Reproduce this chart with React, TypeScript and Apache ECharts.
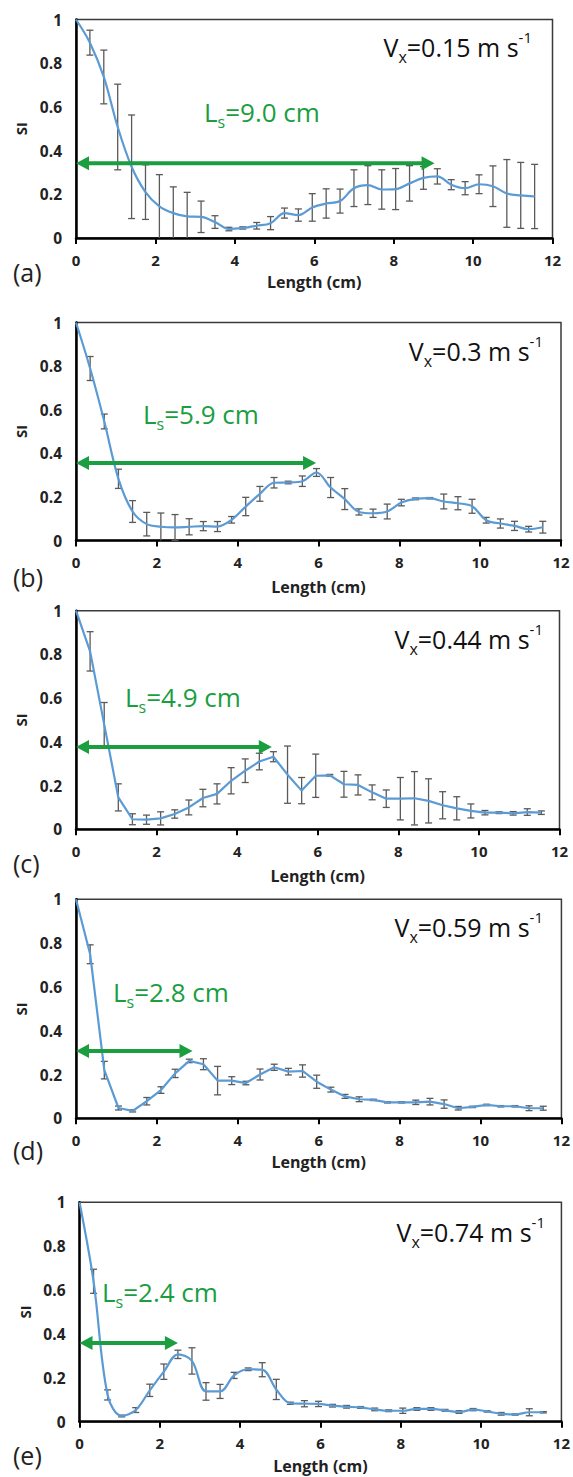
import React, { useEffect, useRef } from "react";
import * as echarts from "echarts";

// ---------- data ----------
const lengthCm = [0, 0.35, 0.7, 1.05, 1.4, 1.75, 2.1, 2.45, 2.8, 3.15, 3.5, 3.85, 4.2, 4.55, 4.9, 5.25, 5.6, 5.95, 6.3, 6.65, 7.0, 7.35, 7.7, 8.05, 8.4, 8.75, 9.1, 9.45, 9.8, 10.15, 10.5, 10.85, 11.2, 11.55];

const siA = [1.0, 0.894, 0.737, 0.508, 0.326, 0.21, 0.145, 0.114, 0.099, 0.097, 0.073, 0.041, 0.046, 0.056, 0.068, 0.114, 0.105, 0.14, 0.158, 0.169, 0.228, 0.242, 0.222, 0.224, 0.25, 0.275, 0.282, 0.244, 0.228, 0.246, 0.237, 0.204, 0.195, 0.19];
const errA = [0, 0.057, 0.123, 0.196, 0.237, 0.125, 0.145, 0.12, 0.11, 0.072, 0.029, 0.008, 0.005, 0.015, 0.03, 0.023, 0.028, 0.063, 0.067, 0.055, 0.084, 0.089, 0.09, 0.094, 0.081, 0.052, 0.035, 0.023, 0.03, 0.043, 0.093, 0.155, 0.151, 0.147];

const siB = [1.0, 0.789, 0.546, 0.283, 0.133, 0.075, 0.063, 0.06, 0.063, 0.066, 0.064, 0.095, 0.156, 0.214, 0.265, 0.266, 0.272, 0.312, 0.243, 0.19, 0.131, 0.125, 0.133, 0.174, 0.191, 0.194, 0.179, 0.171, 0.157, 0.093, 0.078, 0.067, 0.052, 0.061];
const errB = [0, 0.055, 0.034, 0.044, 0.05, 0.054, 0.063, 0.059, 0.037, 0.021, 0.023, 0.015, 0.042, 0.034, 0.024, 0.006, 0.024, 0.018, 0.046, 0.048, 0.014, 0.019, 0.034, 0.015, 0.004, 0.003, 0.034, 0.03, 0.032, 0.013, 0.021, 0.021, 0.013, 0.027];

const siC = [1.0, 0.814, 0.48, 0.146, 0.046, 0.044, 0.05, 0.07, 0.1, 0.143, 0.162, 0.222, 0.268, 0.31, 0.332, 0.25, 0.177, 0.245, 0.247, 0.206, 0.203, 0.169, 0.14, 0.14, 0.142, 0.13, 0.11, 0.096, 0.084, 0.076, 0.076, 0.073, 0.079, 0.076];
const errC = [0, 0.09, 0.1, 0.062, 0.025, 0.021, 0.03, 0.019, 0.034, 0.04, 0.046, 0.06, 0.054, 0.038, 0.023, 0.131, 0.06, 0.099, 0.004, 0.059, 0.046, 0.034, 0.04, 0.097, 0.122, 0.101, 0.062, 0.053, 0.032, 0.01, 0.004, 0.008, 0.015, 0.008];

const siD = [1.0, 0.749, 0.22, 0.047, 0.034, 0.078, 0.129, 0.205, 0.262, 0.247, 0.172, 0.172, 0.161, 0.2, 0.233, 0.213, 0.216, 0.167, 0.131, 0.1, 0.087, 0.084, 0.073, 0.073, 0.073, 0.076, 0.065, 0.046, 0.052, 0.061, 0.055, 0.055, 0.046, 0.046];
const errD = [0, 0.043, 0.04, 0.009, 0.005, 0.017, 0.015, 0.019, 0.008, 0.025, 0.065, 0.018, 0.008, 0.025, 0.014, 0.015, 0.028, 0.03, 0.011, 0.009, 0.011, 0.003, 0.003, 0.003, 0.01, 0.015, 0.019, 0.008, 0.003, 0.003, 0.003, 0.003, 0.011, 0.009];

const siE = [1.0, 0.64, 0.122, 0.026, 0.053, 0.143, 0.228, 0.307, 0.277, 0.138, 0.138, 0.211, 0.239, 0.237, 0.147, 0.084, 0.082, 0.081, 0.073, 0.068, 0.065, 0.056, 0.05, 0.05, 0.058, 0.058, 0.052, 0.044, 0.055, 0.047, 0.036, 0.033, 0.043, 0.043];
const errE = [0, 0.055, 0.023, 0.004, 0.011, 0.028, 0.035, 0.019, 0.06, 0.04, 0.032, 0.014, 0.006, 0.032, 0.046, 0.005, 0.014, 0.012, 0.006, 0.006, 0.004, 0.006, 0.004, 0.012, 0.006, 0.006, 0.004, 0.006, 0.005, 0.003, 0.006, 0.003, 0.016, 0.003];

const panelLetters = ["(a)", "(b)", "(c)", "(d)", "(e)"];
const velocities = ["0.15", "0.3", "0.44", "0.59", "0.74"];
const scaleLengths = ["9.0", "5.9", "4.9", "2.8", "2.4"];
const arrowEnds = [9.03, 5.94, 4.86, 2.88, 2.45];
const arrowLevels = [0.342, 0.356, 0.376, 0.307, 0.359];
const smoothCurve = [true, true, false, false, true];

const siSeries = [siA, siB, siC, siD, siE];
const errSeries = [errA, errB, errC, errD, errE];

// ---------- layout (pixels) ----------
const grids = [
  { left: 76, top: 19.5, width: 476.5, height: 218.5 },
  { left: 76, top: 322.5, width: 485, height: 218 },
  { left: 76, top: 610.7, width: 483.5, height: 218.6 },
  { left: 76, top: 899.3, width: 485.7, height: 219 },
  { left: 79.5, top: 1202.3, width: 483, height: 219.4 },
];
const xNameGaps = [36, 38, 39, 36, 36];
const letterPos = [[13, 272], [13, 577], [13, 863], [13, 1150], [13, 1455]];
const lsPos = [[204, 112], [143, 414], [125, 697], [113, 992], [102, 1292]];
const vxPos = [[532, 47], [543, 351], [543, 639], [543, 927], [545, 1232]];

const GREEN = "#1a9e3f";
const BLUE = "#5b9bd5";
const FONT = "'Open Sans', 'Noto Sans', sans-serif";

export default function App() {
  const ref = useRef<HTMLDivElement>(null);

  useEffect(() => {
    if (!ref.current) return;
    const chart = echarts.init(ref.current, undefined, { renderer: "svg" });

    const xAxis: any[] = [];
    const yAxis: any[] = [];
    const series: any[] = [];
    const graphic: any[] = [];

    grids.forEach((g, k) => {
      xAxis.push({
        type: "value",
        gridIndex: k,
        min: 0,
        max: 12,
        interval: 2,
        axisLine: { show: true, onZero: false, lineStyle: { color: "#000", width: 2.5 } },
        axisTick: { show: true, length: 6, lineStyle: { color: "#000", width: 2 } },
        axisLabel: { fontFamily: FONT, fontWeight: "bold", fontSize: 15, color: "#222", margin: 14 },
        splitLine: { show: false },
        name: "Length (cm)",
        nameLocation: "middle",
        nameGap: xNameGaps[k],
        nameTextStyle: { fontFamily: FONT, fontWeight: "bold", fontSize: 16, color: "#222" },
      });
      yAxis.push({
        type: "value",
        gridIndex: k,
        min: 0,
        max: 1,
        interval: 0.2,
        axisLine: { show: true, onZero: false, lineStyle: { color: "#000", width: 2.5 } },
        axisTick: { show: false },
        axisLabel: { fontFamily: FONT, fontWeight: "bold", fontSize: 15.5, color: "#222", margin: 14 },
        splitLine: { show: false },
        name: "SI",
        nameLocation: "middle",
        nameRotate: 90,
        nameGap: 47,
        nameTextStyle: { fontFamily: FONT, fontWeight: "bold", fontSize: 15, color: "#222" },
      });

      const si = siSeries[k];
      const err = errSeries[k];

      series.push({
        type: "custom",
        xAxisIndex: k,
        yAxisIndex: k,
        silent: true,
        z: 2,
        data: lengthCm.map((x, i) => [x, si[i], err[i]]),
        renderItem: (params: any, api: any) => {
          const x = api.value(0);
          const y = api.value(1);
          const e = api.value(2);
          if (!e) return { type: "group", children: [] };
          const hiV = Math.min(1, y + e);
          const loV = Math.max(0, y - e);
          const top = api.coord([x, hiV]);
          const bot = api.coord([x, loV]);
          const hw = 3.5;
          const st = { stroke: "#5a5a5a", lineWidth: 1.3 };
          const children: any[] = [
            { type: "line", shape: { x1: top[0], y1: top[1], x2: bot[0], y2: bot[1] }, style: st },
            { type: "line", shape: { x1: top[0] - hw, y1: top[1], x2: top[0] + hw, y2: top[1] }, style: st },
          ];
          if (loV > 0) {
            children.push({ type: "line", shape: { x1: bot[0] - hw, y1: bot[1], x2: bot[0] + hw, y2: bot[1] }, style: st });
          }
          return { type: "group", children };
        },
      });

      series.push({
        type: "line",
        xAxisIndex: k,
        yAxisIndex: k,
        z: 3,
        silent: true,
        showSymbol: false,
        smooth: smoothCurve[k] ? 0.35 : false,
        lineStyle: { color: BLUE, width: 2.2 },
        data: lengthCm.map((x, i) => [x, si[i]]),
      });

      series.push({
        type: "custom",
        xAxisIndex: k,
        yAxisIndex: k,
        silent: true,
        z: 4,
        data: [[arrowEnds[k], arrowLevels[k]]],
        renderItem: (params: any, api: any) => {
          const p0 = api.coord([0, api.value(1)]);
          const p1 = api.coord([api.value(0), api.value(1)]);
          const hl = 13;
          const hh = 7;
          return {
            type: "group",
            children: [
              { type: "line", shape: { x1: p0[0] + hl - 1, y1: p0[1], x2: p1[0] - hl + 1, y2: p1[1] }, style: { stroke: GREEN, lineWidth: 4 } },
              { type: "polygon", shape: { points: [[p0[0], p0[1]], [p0[0] + hl, p0[1] - hh], [p0[0] + hl, p0[1] + hh]] }, style: { fill: GREEN } },
              { type: "polygon", shape: { points: [[p1[0], p1[1]], [p1[0] - hl, p1[1] - hh], [p1[0] - hl, p1[1] + hh]] }, style: { fill: GREEN } },
            ],
          };
        },
      });

      graphic.push({
        type: "text",
        x: letterPos[k][0],
        y: letterPos[k][1],
        style: { text: panelLetters[k], fontFamily: FONT, fontSize: 25, fill: "#222", align: "left", verticalAlign: "middle" },
      });
      graphic.push({
        type: "text",
        x: lsPos[k][0],
        y: lsPos[k][1],
        style: {
          text: "{m|L}{sub|s}{m|=" + scaleLengths[k] + " cm}",
          fill: GREEN,
          align: "left",
          verticalAlign: "middle",
          rich: {
            m: { fontFamily: FONT, fontSize: 26, fill: GREEN, lineHeight: 36 },
            sub: { fontFamily: FONT, fontSize: 16, fill: GREEN, verticalAlign: "bottom", lineHeight: 16 },
          },
        },
      });
      graphic.push({
        type: "text",
        x: vxPos[k][0],
        y: vxPos[k][1],
        style: {
          text: "{m|V}{sub|x}{m|=" + velocities[k] + " m s}{sup|-1}",
          fill: "#111",
          align: "right",
          verticalAlign: "middle",
          rich: {
            m: { fontFamily: FONT, fontSize: 25, fill: "#111", lineHeight: 36 },
            sub: { fontFamily: FONT, fontSize: 16, fill: "#111", verticalAlign: "bottom", lineHeight: 16 },
            sup: { fontFamily: FONT, fontSize: 15, fill: "#111", verticalAlign: "top", lineHeight: 26 },
          },
        },
      });
    });

    chart.setOption({
      animation: false,
      backgroundColor: "#fff",
      grid: grids.map((g) => ({ ...g, show: true, borderColor: "#3a3a3a", borderWidth: 1.5, backgroundColor: "transparent" })),
      xAxis,
      yAxis,
      series,
      graphic,
    });

    return () => chart.dispose();
  }, []);

  return <div ref={ref} style={{ position: "absolute", left: 0, top: 0, width: 573, height: 1477 }} />;
}
